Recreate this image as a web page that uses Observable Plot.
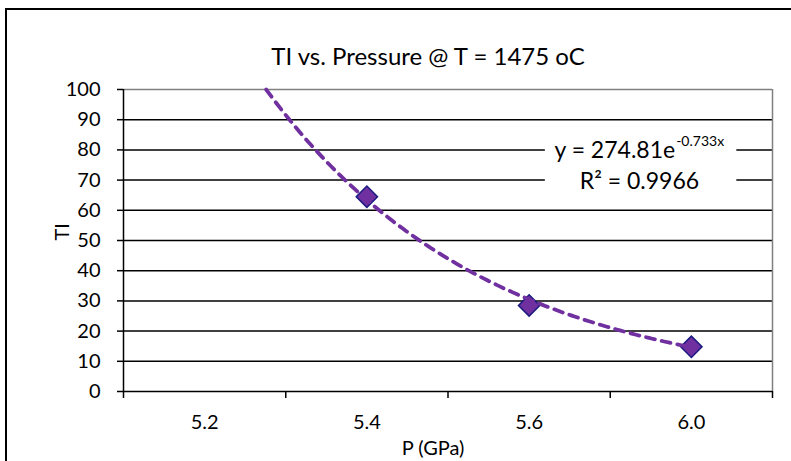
<!DOCTYPE html>
<html><head><meta charset="utf-8">
<script src="https://cdn.jsdelivr.net/npm/d3@7"></script>
<script src="https://cdn.jsdelivr.net/npm/@observablehq/plot@0.6"></script>
<style>
body{margin:0;background:#fff;overflow:hidden;width:791px;height:461px}
#frame{position:absolute;left:5px;top:8px;width:800px;height:470px;border:2px solid #000;box-sizing:border-box}
#chart{position:absolute;left:0;top:0}
</style></head><body>
<div id="frame"></div><div id="chart"></div>
<script>
// Data
const categories = ["5.2", "5.4", "5.6", "6.0"];          // P (GPa), category axis
const pointCategories = ["5.4", "5.6", "6.0"];
const tiValues = [64.5, 28.5, 14.8];                      // TI
const yTicks = [0, 10, 20, 30, 40, 50, 60, 70, 80, 90, 100];
const trendCoef = [274.81, -0.733];                       // y = a e^(b x), x = category index
const trendLabel = ["y = 274.81e", "-0.733x", "R² = 0.9966"];
const titleText = "TI vs. Pressure @ T = 1475 oC";
const xLabel = "P (GPa)";
const yLabel = "TI";

const points = pointCategories.map((c, i) => ({x: categories.indexOf(c) + 1, y: tiValues[i]}));

// trendline from the displayed equation, clipped at the top of the axis
const [a, b] = trendCoef;
const xStart = Math.log(100 / a) / b;
const xEnd = categories.length;
const trend = d3.range(xStart, xEnd, 0.02).concat([xEnd]).map(x => ({x, y: a * Math.exp(b * x)}));

const font = "Lato, 'Open Sans', sans-serif";

const chart = Plot.plot({
  width: 791, height: 461,
  marginLeft: 123, marginRight: 19, marginTop: 89, marginBottom: 70,
  style: {fontFamily: font, color: "#000", background: "transparent", overflow: "visible"},
  x: {domain: [0.5, categories.length + 0.5]},
  y: {domain: [0, 100]},
  marks: [
    // grid
    Plot.ruleY(yTicks.filter(d => d > 0 && d < 100), {stroke: "#000", strokeWidth: 1.5}),
    Plot.ruleY([100], {stroke: "#808080", strokeWidth: 1.5}),
    Plot.ruleX([categories.length + 0.5], {stroke: "#808080", strokeWidth: 1.5}),
    // equation label background
    Plot.rect([{x1: 3.1, x2: 4.28, y1: 65, y2: 87}], {x1: "x1", x2: "x2", y1: "y1", y2: "y2", fill: "#fff"}),
    // axes
    Plot.axisY({ticks: yTicks, tickSize: 6, tickPadding: 17, fontSize: 20, label: null, stroke: "#000", strokeWidth: 1.5}),
    Plot.ruleX([0.5], {stroke: "#000", strokeWidth: 1.5}),
    Plot.ruleY([0], {stroke: "#000", strokeWidth: 1.5}),
    Plot.axisX({ticks: d3.range(0.5, categories.length + 1, 1), tickSize: 7, tickFormat: () => "", label: null, strokeWidth: 1.5}),
    Plot.axisX({ticks: categories.map((c, i) => i + 1), tickSize: 0, tickPadding: 23, fontSize: 20, tickFormat: i => categories[i - 1], label: null}),
    // data
    Plot.dot(points, {x: "x", y: "y", symbol: "square", rotate: 45, r: 8.5, fill: "#7030A0", stroke: "#1A1A80", strokeWidth: 1.5}),
    Plot.line(trend, {x: "x", y: "y", stroke: "#7030A0", strokeWidth: 3.8, strokeDasharray: "9,7", strokeLinecap: "round", curve: "linear"}),
    // equation
    Plot.text([trendLabel[0]], {x: 3.9, y: 79.6, textAnchor: "end", fontSize: 23, fill: "#000"}),
    Plot.text([trendLabel[1]], {x: 3.9, y: 79.6, textAnchor: "start", dy: -10, dx: 1, fontSize: 14, fill: "#000"}),
    Plot.text([trendLabel[2]], {x: 3.68, y: 69.6, textAnchor: "middle", fontSize: 23, fill: "#000"}),
    // titles
    Plot.text([titleText], {frameAnchor: "top", lineAnchor: "middle", dy: -32, dx: -20, fontSize: 24, fill: "#000"}),
    Plot.text([xLabel], {frameAnchor: "bottom", lineAnchor: "middle", dy: 57, dx: -15, fontSize: 20, fill: "#000"}),
    Plot.text([yLabel], {frameAnchor: "left", dx: -61, rotate: -90, fontSize: 20, fill: "#000"})
  ]
});
document.getElementById("chart").append(chart);
</script>
</body></html>
